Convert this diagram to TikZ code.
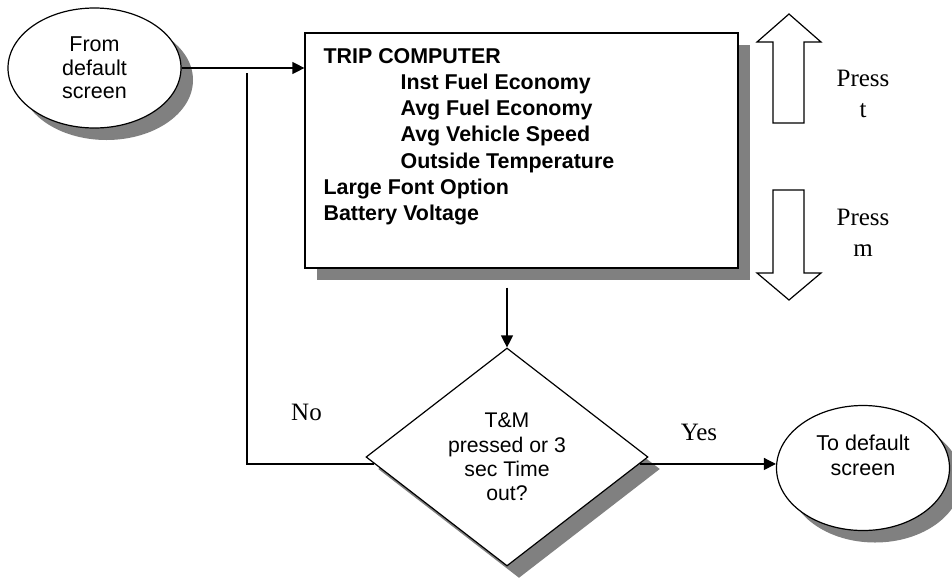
\documentclass[tikz,border=0pt]{standalone}
\usepackage{fontspec}
\newfontfamily\sansfnt{Liberation Sans}
\newfontfamily\seriffnt{Liberation Serif}
\usetikzlibrary{shapes.geometric,shadows,arrows.meta}
\begin{document}
\begin{tikzpicture}[x=1pt,y=-1pt,line width=1.2pt,
  castshadow/.style={drop shadow={shadow xshift=12pt,shadow yshift=-12pt,fill=black!50,opacity=1}},
  terminal/.style={ellipse,draw,fill=white,castshadow,minimum width=173pt,inner sep=0pt,align=center,
    font=\sansfnt\fontsize{21.5}{23.5}\selectfont},
  decision/.style={diamond,draw,fill=white,castshadow,minimum width=282pt,minimum height=218pt,inner sep=0pt,
    align=center,font=\sansfnt\fontsize{21.2}{24.3}\selectfont},
  menubox/.style={rectangle,draw,fill=white,castshadow,minimum width=433pt,minimum height=235pt,inner sep=0pt},
  menutext/.style={inner sep=0pt,anchor=north west,align=left,font=\sansfnt\bfseries\fontsize{21.4}{26.3}\selectfont},
  serifnote/.style={inner sep=0pt,align=center,font=\seriffnt\fontsize{25}{31}\selectfont},
  flow/.style={-{Triangle[length=12pt,width=12pt]}},
  blockarrow/.style={draw,fill=white,line width=1.2pt,line join=miter}]
\useasboundingbox[fill=white] (0,0) rectangle (952,579);

% start and end terminals
\node[terminal,minimum height=120pt] (from) at (94.5,68) {From\\default\\screen};
\node[terminal,minimum height=125pt] (to) at (863,468) {};
\node[inner sep=0pt,align=center,font=\sansfnt\fontsize{21.5}{25}\selectfont] (totext) at (863,455.5) {To default\\screen};

% menu listing
\node[menubox] (menu) at (521.5,150.5) {};
\node[menutext] (menulist) at (323,47.5) {TRIP COMPUTER\\
\hspace*{77pt}Inst Fuel Economy\\
\hspace*{77pt}Avg Fuel Economy\\
\hspace*{77pt}Avg Vehicle Speed\\
\hspace*{77pt}Outside Temperature\\
Large Font Option\\
Battery Voltage};

% decision
\node[decision] (dec) at (507,457) {T\&M\\pressed or 3\\sec Time\\out?};

% scroll buttons
\path[blockarrow] (789,14) -- (821,42) -- (804,42) -- (804,123) -- (773,123) -- (773,42) -- (757,42) -- cycle;
\path[blockarrow] (789,300) -- (821,273) -- (804,273) -- (804,190) -- (773,190) -- (773,273) -- (757,273) -- cycle;
\node[serifnote] (pressup) at (863,94) {Press\\t};
\node[serifnote] (pressdown) at (863,233) {Press\\m};

% connectors
\draw[flow] (from.east) -- (from.east -| menu.west);
\draw[flow] ([yshift=-19pt]menu.south -| dec.north) -- (dec.north);
\draw[flow] (dec.357) -- (dec.357 -| to.west);
\coordinate (nojoin) at (247,73);
\draw (dec.183) -| (nojoin);

% branch labels
\node[serifnote] (nolabel) at (306.5,412) {No};
\node[serifnote] (yeslabel) at (699,432) {Yes};
\end{tikzpicture}
\end{document}
